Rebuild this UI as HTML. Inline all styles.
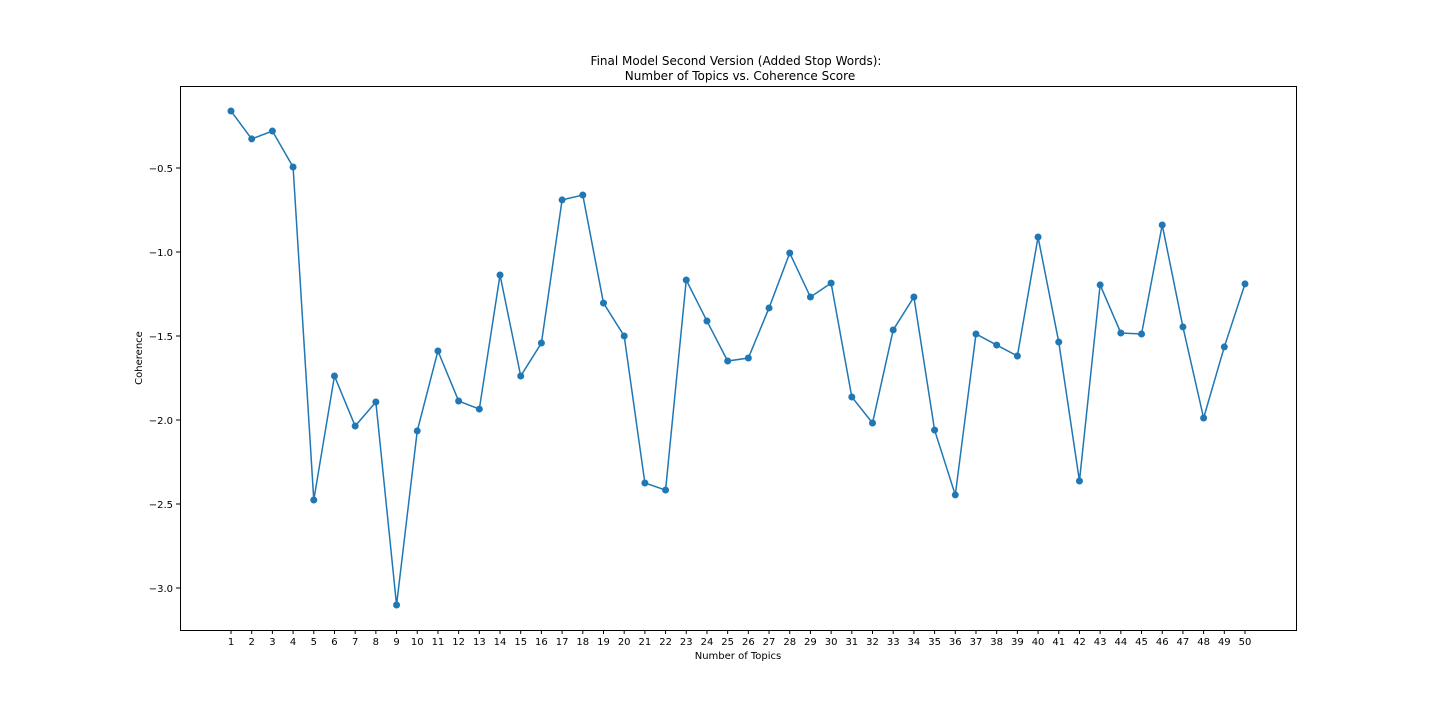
<!DOCTYPE html>
<html><head><meta charset="utf-8"><style>
html,body{margin:0;padding:0;background:#fff;}
svg{display:block;font-family:"DejaVu Sans","Liberation Sans",sans-serif;}
</style></head><body>
<svg id="chart" width="1440" height="720">
<rect x="0" y="0" width="1440" height="720" fill="#fff"/>
<text x="736" y="65" font-size="12" text-anchor="middle">Final Model Second Version (Added Stop Words):</text>
<text x="740" y="80" font-size="12" text-anchor="middle">Number of Topics vs. Coherence Score</text>
<text x="738" y="659" font-size="10" text-anchor="middle">Number of Topics</text>
<text x="142" y="358" font-size="10" text-anchor="middle" transform="rotate(-90 142 358)">Coherence</text>
<g id="xticks"></g>
<g id="yticks"></g>
<g id="series"></g>
<rect x="180.5" y="86.5" width="1116" height="544" fill="none" stroke="#000" stroke-width="1"/>
</svg>
<script>
const topics = [];
for (let i = 1; i <= 50; i++) topics.push(i);
const coherence = [-0.161,-0.327,-0.280,-0.494,-2.476,-1.738,-2.036,-1.893,-3.101,-2.065,
-1.589,-1.887,-1.935,-1.137,-1.738,-1.542,-0.690,-0.661,-1.304,-1.500,
-2.375,-2.417,-1.167,-1.411,-1.649,-1.631,-1.333,-1.006,-1.268,-1.185,
-1.863,-2.018,-1.464,-1.268,-2.060,-2.446,-1.488,-1.554,-1.619,-0.911,
-1.536,-2.363,-1.196,-1.482,-1.488,-0.839,-1.446,-1.988,-1.565,-1.190];
const yTicks = [-0.5,-1.0,-1.5,-2.0,-2.5,-3.0];
const yTickLabels = ["\u22120.5","\u22121.0","\u22121.5","\u22122.0","\u22122.5","\u22123.0"];

const NS = "http://www.w3.org/2000/svg";
const xScale = t => 231 + (t - 1) * (1245 - 231) / 49;
const yScale = v => 168 + (-0.5 - v) * 168;
function mk(tag, attrs, parent, text) {
  const e = document.createElementNS(NS, tag);
  for (const k in attrs) e.setAttribute(k, attrs[k]);
  if (text !== undefined) e.textContent = text;
  parent.appendChild(e);
  return e;
}
const gx = document.getElementById('xticks');
topics.forEach(t => {
  const x = xScale(t);
  const l = mk('line', {x1:x, x2:x, y1:630, y2:634, stroke:'#000'}, gx);
  
  
  const tx = mk('text', {x:x, y:645, 'font-size':10, 'text-anchor':'middle'}, gx, String(t));
  
  
});
const gy = document.getElementById('yticks');
yTicks.forEach((v, i) => {
  const y = yScale(v);
  const l = mk('line', {x1:176, x2:180, y1:y, y2:y, stroke:'#000'}, gy);
  
  
  const tx = mk('text', {x:173, y:y + 4, 'font-size':10, 'text-anchor':'end'}, gy, yTickLabels[i]);
  
  
});
const gs = document.getElementById('series');
const pts = topics.map((t, i) => xScale(t) + ',' + yScale(coherence[i])).join(' ');
const pl = mk('polyline', {points:pts, fill:'none', stroke:'#1f77b4', 'stroke-width':1.5}, gs);


topics.forEach((t, i) => {
  const c = mk('circle', {cx:xScale(t), cy:yScale(coherence[i]), r:3.5, fill:'#1f77b4'}, gs);
  
  
});
</script>
</body></html>
